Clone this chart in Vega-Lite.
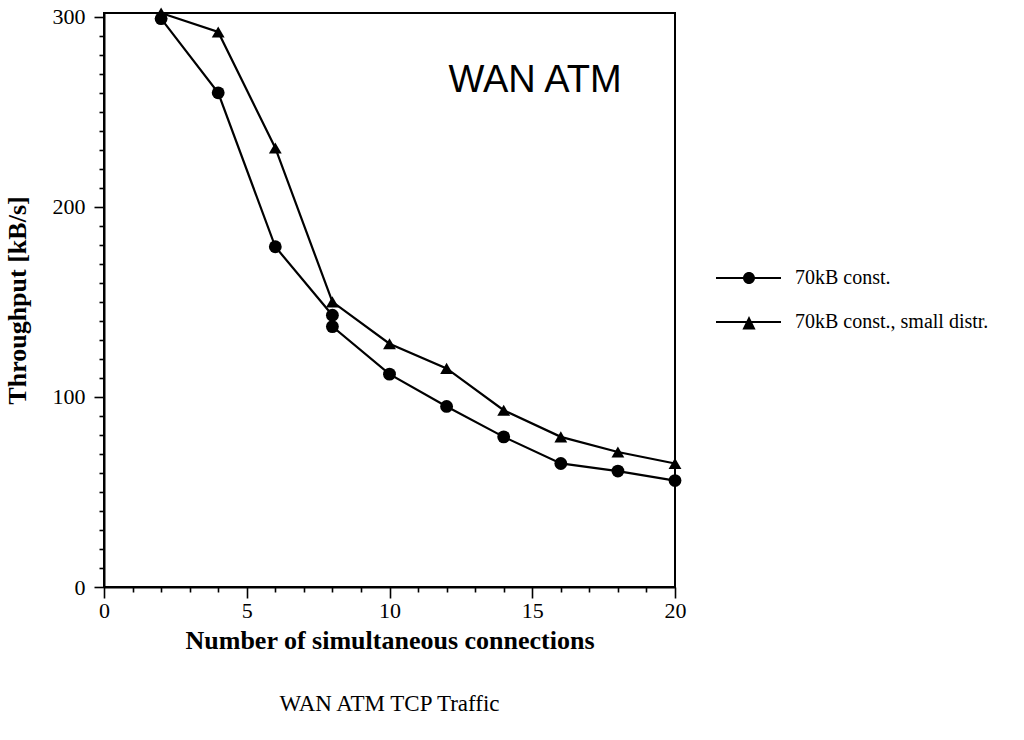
{
  "$schema": "https://vega.github.io/schema/vega-lite/v6.json",
  "width": 571,
  "height": 574,
  "autosize": "none",
  "padding": {"left": 104, "top": 13, "right": 349, "bottom": 153},
  "background": "white",
  "title": {
    "text": "WAN ATM TCP Traffic",
    "orient": "bottom",
    "anchor": "middle",
    "font": "Liberation Serif",
    "fontSize": 23,
    "fontWeight": "normal",
    "color": "black",
    "offset": 40
  },
  "config": {
    "view": {"stroke": "black", "strokeWidth": 2},
    "axis": {
      "domainColor": "black",
      "domainWidth": 2,
      "tickColor": "black",
      "tickWidth": 1.6,
      "grid": false,
      "labelFont": "Liberation Serif",
      "labelFontSize": 22,
      "labelColor": "black",
      "titleFont": "Liberation Serif",
      "titleFontWeight": "bold",
      "titleFontSize": 26,
      "titleColor": "black"
    },
    "legend": {
      "labelFont": "Liberation Serif",
      "labelFontSize": 20,
      "labelColor": "black",
      "labelLimit": 0
    }
  },
  "resolve": {"scale": {"shape": "independent"}, "legend": {"shape": "independent"}},
  "data": {
    "values": [
      {"series": "70kB const.", "seq": 1, "n": 2, "kbs": 299},
      {"series": "70kB const.", "seq": 2, "n": 4, "kbs": 260},
      {"series": "70kB const.", "seq": 3, "n": 6, "kbs": 179},
      {"series": "70kB const.", "seq": 4, "n": 8, "kbs": 143},
      {"series": "70kB const.", "seq": 5, "n": 8, "kbs": 137},
      {"series": "70kB const.", "seq": 6, "n": 10, "kbs": 112},
      {"series": "70kB const.", "seq": 7, "n": 12, "kbs": 95},
      {"series": "70kB const.", "seq": 8, "n": 14, "kbs": 79},
      {"series": "70kB const.", "seq": 9, "n": 16, "kbs": 65},
      {"series": "70kB const.", "seq": 10, "n": 18, "kbs": 61},
      {"series": "70kB const.", "seq": 11, "n": 20, "kbs": 56},
      {"series": "70kB const., small distr.", "seq": 1, "n": 2, "kbs": 302},
      {"series": "70kB const., small distr.", "seq": 2, "n": 4, "kbs": 292},
      {"series": "70kB const., small distr.", "seq": 3, "n": 6, "kbs": 231},
      {"series": "70kB const., small distr.", "seq": 4, "n": 8, "kbs": 150},
      {"series": "70kB const., small distr.", "seq": 5, "n": 10, "kbs": 128},
      {"series": "70kB const., small distr.", "seq": 6, "n": 12, "kbs": 115},
      {"series": "70kB const., small distr.", "seq": 7, "n": 14, "kbs": 93},
      {"series": "70kB const., small distr.", "seq": 8, "n": 16, "kbs": 79},
      {"series": "70kB const., small distr.", "seq": 9, "n": 18, "kbs": 71},
      {"series": "70kB const., small distr.", "seq": 10, "n": 20, "kbs": 65}
    ]
  },
  "encoding": {
    "x": {
      "field": "n",
      "type": "quantitative",
      "scale": {"domain": [0, 20], "nice": false, "zero": true},
      "axis": {
        "title": "Number of simultaneous connections",
        "values": [0,1,2,3,4,5,6,7,8,9,10,11,12,13,14,15,16,17,18,19,20],
        "labelExpr": "datum.value % 5 === 0 ? datum.label : ''",
        "tickSize": {"condition": {"test": "datum.value % 5 === 0", "value": 11}, "value": 5},
        "labelPadding": 2,
        "labelFlush": false,
        "labelOverlap": false,
        "titlePadding": 6
      }
    },
    "y": {
      "field": "kbs",
      "type": "quantitative",
      "scale": {"domain": [0, 302], "nice": false},
      "axis": {
        "title": "Throughput [kB/s]",
        "values": [0,10,20,30,40,50,60,70,80,90,100,110,120,130,140,150,160,170,180,190,200,210,220,230,240,250,260,270,280,290,300],
        "labelExpr": "datum.value % 100 === 0 ? datum.label : ''",
        "tickSize": {"condition": {"test": "datum.value % 100 === 0", "value": 10}, "value": 5},
        "labelPadding": 9,
        "labelFlush": false,
        "labelOverlap": false,
        "titlePadding": 22
      }
    }
  },
  "layer": [
    {
      "mark": {"type": "line", "color": "black", "strokeWidth": 2.2},
      "encoding": {
        "detail": {"field": "series"},
        "order": {"field": "seq"}
      }
    },
    {
      "mark": {"type": "point", "filled": true, "color": "black", "opacity": 1, "size": 165},
      "encoding": {
        "shape": {
          "field": "series",
          "type": "nominal",
          "scale": {"domain": ["70kB const.", "70kB const., small distr."], "range": ["circle", "triangle-up"]},
          "legend": null
        }
      }
    },
    {
      "mark": {"type": "point", "filled": true, "color": "black", "opacity": 0, "size": 1600},
      "encoding": {
        "shape": {
          "field": "series",
          "type": "nominal",
          "scale": {
            "domain": ["70kB const.", "70kB const., small distr."],
            "range": [
              "M-1.65,-0.05H1.6V0.05H-1.65ZM0.3,0A0.3,0.3,0,1,1,-0.3,0A0.3,0.3,0,1,1,0.3,0Z",
              "M-1.65,-0.05H1.6V0.05H-1.65ZM0,-0.3L0.33,0.38L-0.33,0.38Z"
            ]
          },
          "legend": {
            "title": null,
            "orient": "none",
            "legendX": 624,
            "legendY": 244,
            "padding": 0,
            "rowPadding": 13,
            "symbolSize": 1600,
            "symbolFillColor": "black",
            "symbolStrokeColor": "black",
            "symbolStrokeWidth": 1.6,
            "symbolOpacity": 1,
            "labelOffset": 25
          }
        }
      }
    },
    {
      "data": {"values": [{"n": 15.1, "kbs": 266, "label": "WAN ATM"}]},
      "mark": {"type": "text", "font": "Liberation Sans", "fontSize": 38, "color": "black", "align": "center", "baseline": "middle"},
      "encoding": {"text": {"field": "label"}}
    }
  ]
}
